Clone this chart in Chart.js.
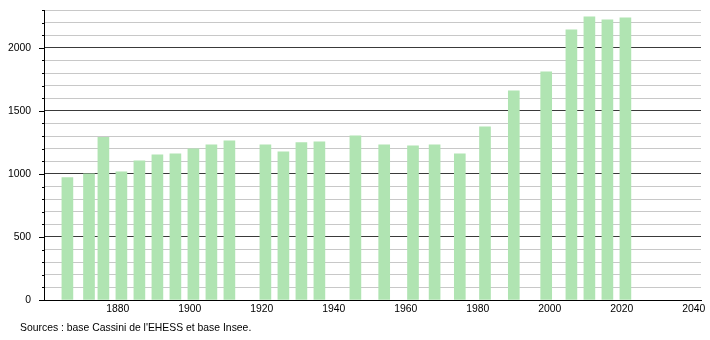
<!DOCTYPE html>
<html>
<head>
<meta charset="utf-8">
<script src="https://cdn.jsdelivr.net/npm/chart.js@4/dist/chart.umd.min.js"></script>
<style>
  html, body { margin: 0; padding: 0; background: #fff; }
  #wrap { position: relative; width: 710px; height: 340px; }
  #src { position: absolute; left: 20px; top: 322px; font: 10.4px "Liberation Sans", Arial, sans-serif; color: #000; white-space: nowrap; }
</style>
</head>
<body>
<div id="wrap">
  <canvas id="c" width="710" height="340"></canvas>
  <div id="src">Sources : base Cassini de l'EHESS et base Insee.</div>
</div>
<script>
const years = [1866, 1872, 1876, 1881, 1886, 1891, 1896, 1901, 1906, 1911, 1921, 1926, 1931, 1936, 1946, 1954, 1962, 1968, 1975, 1982, 1990, 1999, 2006, 2011, 2016, 2021];
const population = [971, 1000, 1291, 1016, 1103, 1151, 1159, 1198, 1230, 1262, 1230, 1175, 1249, 1254, 1302, 1230, 1222, 1230, 1159, 1373, 1659, 1810, 2143, 2246, 2222, 2238];
const xTickYears = [1880, 1900, 1920, 1940, 1960, 1980, 2000, 2020, 2040];
const yLabelValues = [0, 500, 1000, 1500, 2000];

const yTickMarks = {
  id: 'yTickMarks',
  afterDraw(chart) {
    const y = chart.scales.y;
    const ctx = chart.ctx;
    ctx.save();
    ctx.strokeStyle = '#000';
    ctx.lineWidth = 1;
    y.ticks.forEach(t => {
      const py = Math.round(y.getPixelForValue(t.value)) + 0.5;
      const major = t.value % 500 === 0;
      const x0 = y.right - (major ? 5 : 2);
      ctx.beginPath();
      ctx.moveTo(x0, py);
      ctx.lineTo(y.right, py);
      ctx.stroke();
    });
    ctx.restore();
  }
};

new Chart(document.getElementById('c'), {
  type: 'bar',
  data: {
    datasets: [{
      data: years.map((yr, i) => ({ x: yr, y: population[i] })),
      backgroundColor: 'rgb(176,228,178)',
      borderWidth: 0,
      barThickness: 11
    }]
  },
  options: {
    responsive: false,
    animation: false,
    events: [],
    layout: { padding: { top: 10, right: 9, bottom: 20, left: 0 } },
    plugins: { legend: { display: false }, tooltip: { enabled: false }, title: { display: false } },
    scales: {
      x: {
        type: 'linear',
        min: 1859.5,
        max: 2042,
        offset: false,
        afterBuildTicks: s => { s.ticks = xTickYears.map(v => ({ value: v })); },
        afterFit: s => { s.height = 20; s.paddingLeft = 0; s.paddingRight = 0; },
        ticks: {
          color: '#000',
          font: { family: '"Liberation Sans", Arial, sans-serif', size: 10.4 },
          padding: 3,
          maxRotation: 0,
          autoSkip: false,
          callback: v => String(v)
        },
        grid: { display: false, drawTicks: false },
        border: { display: true, color: '#000', width: 1 }
      },
      y: {
        type: 'linear',
        min: 0,
        max: 2300,
        afterFit: s => { s.width = 44; s.paddingTop = 0; s.paddingBottom = 0; },
        ticks: {
          stepSize: 100,
          color: '#000',
          font: { family: '"Liberation Sans", Arial, sans-serif', size: 10.4 },
          padding: 13,
          autoSkip: false,
          callback: v => yLabelValues.includes(v) ? String(v) : ''
        },
        grid: {
          drawTicks: false,
          color: ctx => (ctx.tick && ctx.tick.value % 500 === 0) ? '#3a3a3a' : '#c8c8c8',
          lineWidth: 1
        },
        border: { display: true, color: '#000', width: 1 }
      }
    }
  },
  plugins: [yTickMarks]
});
</script>
</body>
</html>
